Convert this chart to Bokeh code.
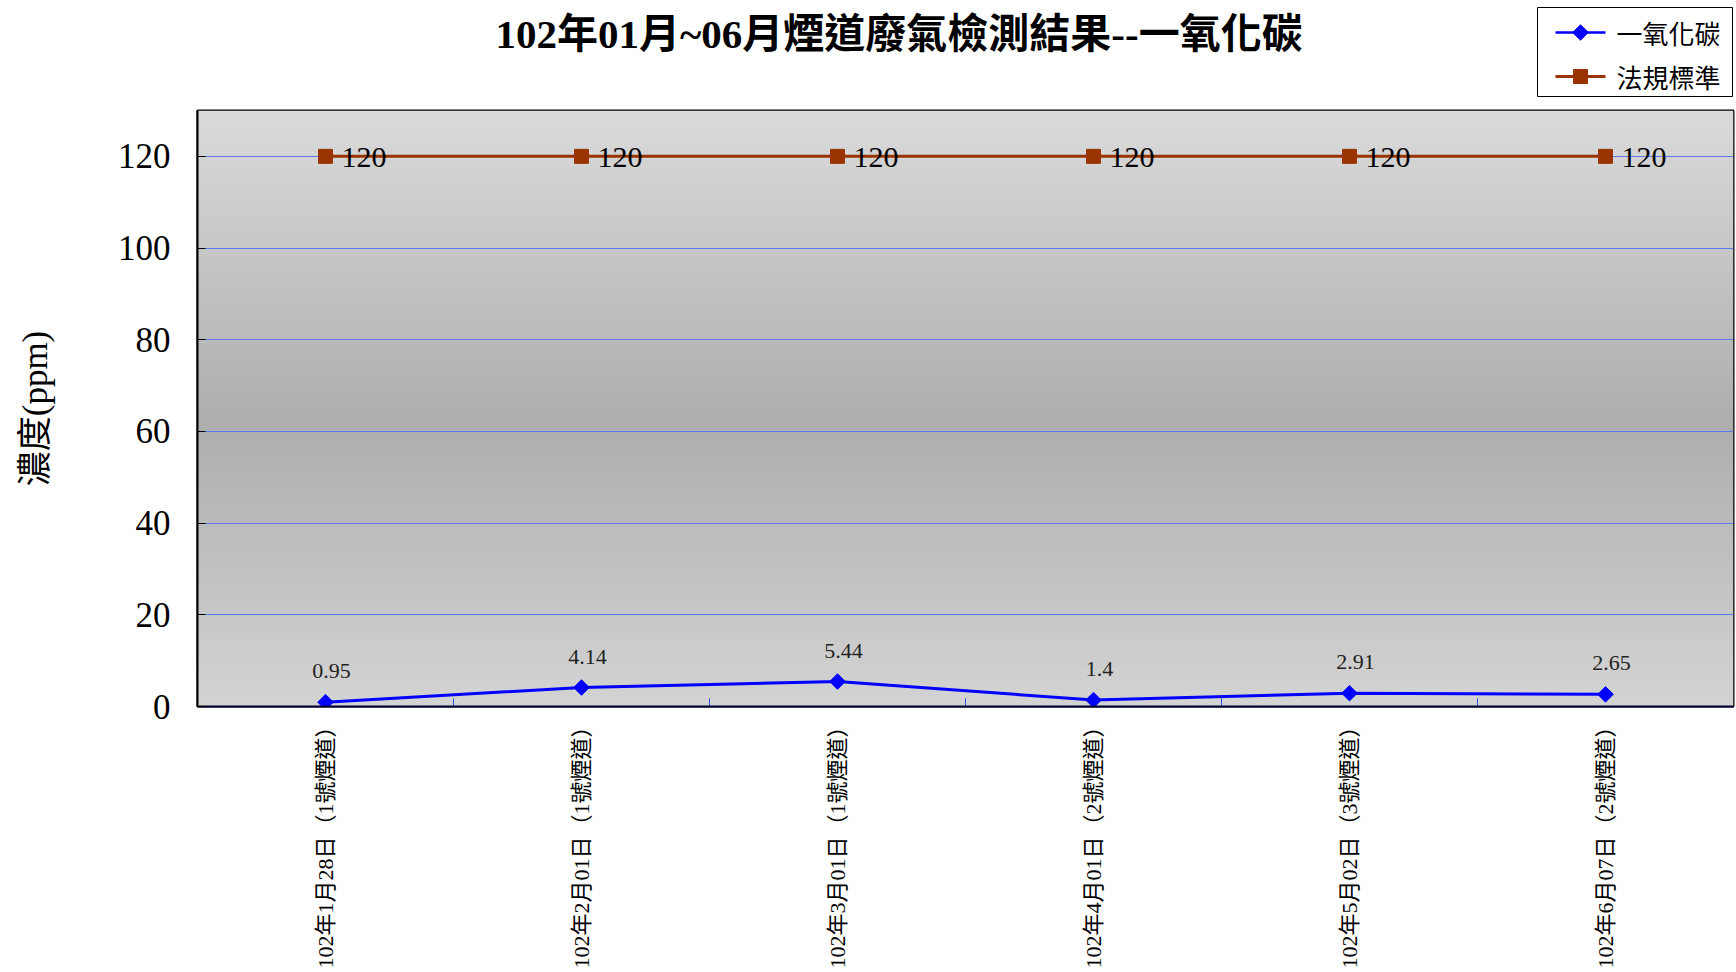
import numpy as np
from bokeh.plotting import figure
from bokeh.layouts import column
from bokeh.models import FactorRange, Range1d, FixedTicker, Label, ColumnDataSource
from bokeh.core.properties import value
from bokeh.embed import file_html
from bokeh.resources import INLINE

# ---------------- data ----------------
categories = [
    "102年1月28日（1號煙道）",
    "102年2月01日（1號煙道）",
    "102年3月01日（1號煙道）",
    "102年4月01日（2號煙道）",
    "102年5月02日（3號煙道）",
    "102年6月07日（2號煙道）",
]
co_values = [0.95, 4.14, 5.44, 1.4, 2.91, 2.65]
co_labels = ["0.95", "4.14", "5.44", "1.4", "2.91", "2.65"]
standard_values = [120, 120, 120, 120, 120, 120]
standard_labels = ["120", "120", "120", "120", "120", "120"]
y_ticks = [0, 20, 40, 60, 80, 100, 120]
y_max = 130
title_text = "102年01月~06月煙道廢氣檢測結果--一氧化碳"
y_title = "濃度(ppm)"
series_names = ["一氧化碳", "法規標準"]
series_colors = ["#0000ff", "#993300"]

SERIF = "Liberation Serif, Noto Sans CJK TC"
CJK = "Noto Sans CJK TC"
CO_COLOR, STD_COLOR = series_colors

W = 1736
HEADER_H = 100
MAIN_H = 872
MB_L, MB_R, MB_T, MB_B = 197, 3, 10, 266

# ---------------- header (title + legend), page-pixel coordinates ----------------
# (the column aligns the header's frame with the main frame, so map x range to page pixels)
header = figure(width=W, height=HEADER_H, x_range=Range1d(MB_L, W - MB_R),
                y_range=Range1d(0, HEADER_H),
                output_backend="svg", toolbar_location=None, tools="",
                x_axis_location=None, y_axis_location=None, min_border=0)
header.outline_line_color = None
header.background_fill_color = "white"
header.border_fill_color = "white"
header.xgrid.visible = False
header.ygrid.visible = False

header.add_layout(Label(x=495, y=67, text=title_text, text_font=SERIF,
                        text_font_size="41px", text_font_style="bold",
                        text_align="left", text_baseline="middle", text_color="black"))

# legend box
LG_L, LG_R, LG_B, LG_T = 1537, 1732, 4, 93
header.quad(left=[LG_L], right=[LG_R], bottom=[LG_B], top=[LG_T],
            fill_color="white", line_color="black", line_width=1)
row_y = [LG_T - 25, LG_B + 20]
g0, g1 = LG_L + 18, LG_L + 68
header.segment(x0=[g0, g0], y0=row_y, x1=[g1, g1], y1=row_y,
               line_color=series_colors, line_width=[2.5, 3])
gm = (g0 + g1) / 2
header.scatter(x=[gm], y=[row_y[0]], marker="square", angle=np.pi / 4, size=11,
               fill_color=CO_COLOR, line_color=CO_COLOR)
header.scatter(x=[gm], y=[row_y[1]], marker="square", size=14,
               fill_color=STD_COLOR, line_color=STD_COLOR)
header.text(x=[g1 + 11, g1 + 11], y=row_y, text=series_names,
            text_font=value(CJK), text_font_size="26px", text_color="black",
            text_align="left", text_baseline="middle")

# ---------------- main plot ----------------
p = figure(width=W, height=MAIN_H, x_range=FactorRange(*categories),
           y_range=Range1d(0, y_max), output_backend="svg",
           toolbar_location=None, tools="",
           min_border_left=MB_L, min_border_right=MB_R,
           min_border_top=MB_T, min_border_bottom=MB_B)
p.background_fill_color = "#c8c8c8"
p.border_fill_color = "white"
p.outline_line_color = "black"
p.outline_line_width = 2

# gradient background (image)
stops_y = [0, 62, y_max]
stops_g = [0xd4, 0xae, 0xdb]
rows = np.linspace(0, y_max, 261)
gray = np.interp(rows, stops_y, stops_g).astype(np.uint8)
img = np.zeros((len(rows), 2), dtype=np.uint32)
view = img.view(dtype=np.uint8).reshape((len(rows), 2, 4))
view[:, :, 0] = gray[:, None]
view[:, :, 1] = gray[:, None]
view[:, :, 2] = gray[:, None]
view[:, :, 3] = 255
p.image_rgba(image=[img], x=0, y=0, dw=len(categories), dh=y_max, level="image")

# grid
p.xgrid.grid_line_color = None
p.ygrid.grid_line_color = "#5a7cf0"
p.ygrid.grid_line_width = 1
p.ygrid.ticker = FixedTicker(ticks=y_ticks)

# y axis
p.yaxis.ticker = FixedTicker(ticks=y_ticks)
p.yaxis.axis_line_color = "black"
p.yaxis.axis_line_width = 2
p.yaxis.major_tick_in = 8
p.yaxis.major_tick_out = 0
p.yaxis.major_tick_line_color = "black"
p.yaxis.minor_tick_line_color = None
p.yaxis.major_label_text_font = SERIF
p.yaxis.major_label_text_font_size = "35px"
p.yaxis.major_label_text_color = "black"
p.yaxis.major_label_standoff = 27
p.yaxis.axis_label = y_title
p.yaxis.axis_label_text_font = SERIF
p.yaxis.axis_label_text_font_size = "35px"
p.yaxis.axis_label_text_font_style = "normal"
p.yaxis.axis_label_text_color = "black"
p.yaxis.axis_label_standoff = 60

# x axis
p.xaxis.axis_line_color = "#000033"
p.xaxis.axis_line_width = 2
p.xaxis.major_tick_line_color = None
p.xaxis.minor_tick_line_color = None
p.xaxis.major_label_orientation = np.pi / 2
p.xaxis.major_label_text_font = SERIF
p.xaxis.major_label_text_font_size = "22px"
p.xaxis.major_label_text_color = "black"
p.xaxis.major_label_standoff = 3

# category boundary ticks
bounds = list(range(1, len(categories)))
p.segment(x0=bounds, y0=[0] * len(bounds), x1=bounds, y1=[1.8] * len(bounds),
          line_color="#3050e0", line_width=1)

src = ColumnDataSource(dict(x=categories, co=co_values, co_lab=co_labels,
                            std=standard_values, std_lab=standard_labels))

# standard series
p.line("x", "std", source=src, line_color=STD_COLOR, line_width=3)
p.scatter("x", "std", source=src, marker="square", size=14,
          fill_color=STD_COLOR, line_color=STD_COLOR)
p.text("x", "std", text="std_lab", source=src, x_offset=16, y_offset=1,
       text_font=value("Liberation Serif"), text_font_size="30px",
       text_baseline="middle", text_align="left", text_color="black")

# CO series
p.line("x", "co", source=src, line_color=CO_COLOR, line_width=3)
p.scatter("x", "co", source=src, marker="square", angle=np.pi / 4, size=11,
          fill_color=CO_COLOR, line_color=CO_COLOR)
p.text("x", "co", text="co_lab", source=src, x_offset=6, y_offset=-31,
       text_font=value("Liberation Serif"), text_font_size="22px",
       text_baseline="alphabetic", text_align="center", text_color="#222222")

layout = column(header, p, spacing=0)
open("out.html", "w").write(file_html(layout, INLINE))
